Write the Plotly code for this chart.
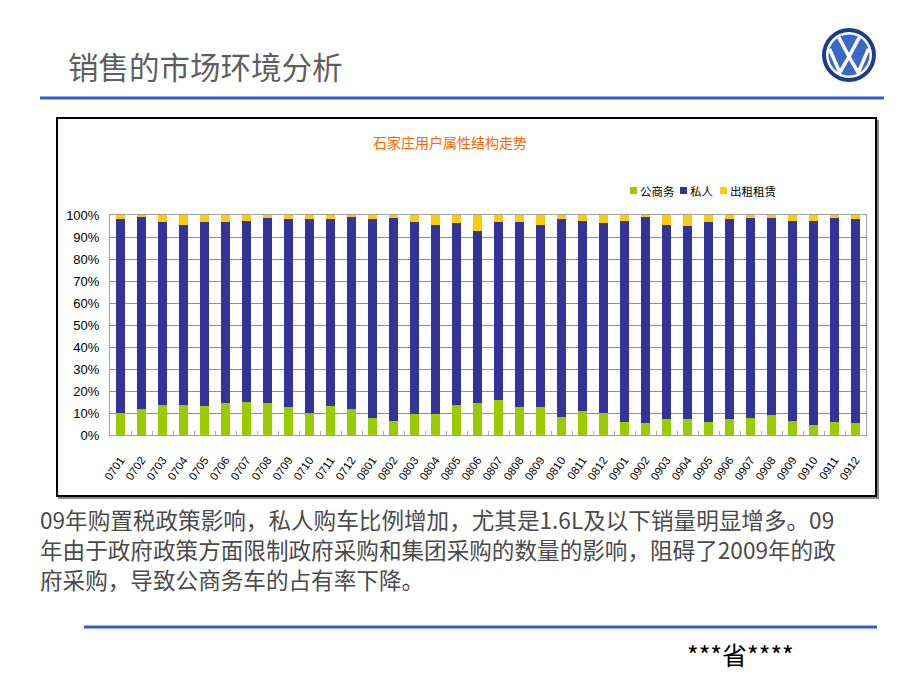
import plotly.graph_objects as go

W, H = 920, 690
OFF = 8  # page body margin offset


def px(x):
    return (x - OFF) / W


def py(y):
    return 1 - (y - OFF) / H


months = ["0701", "0702", "0703", "0704", "0705", "0706", "0707", "0708", "0709", "0710", "0711", "0712",
          "0801", "0802", "0803", "0804", "0805", "0806", "0807", "0808", "0809", "0810", "0811", "0812",
          "0901", "0902", "0903", "0904", "0905", "0906", "0907", "0908", "0909", "0910", "0911", "0912"]

# 公商务 share (%)
gov = [10.1, 11.7, 13.8, 13.8, 13.2, 14.5, 15.2, 14.5, 12.7, 10.1, 13.2, 12.0,
       7.7, 6.5, 9.5, 9.5, 13.8, 14.4, 15.8, 12.6, 12.6, 8.3, 10.8, 10.2,
       5.9, 5.3, 7.1, 7.1, 5.9, 7.1, 7.7, 8.9, 6.5, 4.7, 5.9, 5.3]
# 私人 share (%)
private = [87.9, 87.6, 83.0, 81.7, 83.6, 82.3, 82.2, 84.1, 85.3, 87.9, 84.8, 87.2,
           90.3, 92.1, 87.3, 86.0, 82.4, 78.2, 81.0, 84.2, 82.9, 89.7, 86.6, 86.0,
           91.5, 93.9, 88.4, 87.9, 90.9, 90.9, 90.9, 89.7, 90.9, 92.7, 92.7, 92.7]
# 出租租赁 share (%)
rental = [2.0, 0.7, 3.2, 4.5, 3.2, 3.2, 2.6, 1.4, 2.0, 2.0, 2.0, 0.8,
          2.0, 1.4, 3.2, 4.5, 3.8, 7.4, 3.2, 3.2, 4.5, 2.0, 2.6, 3.8,
          2.6, 0.8, 4.5, 5.0, 3.2, 2.0, 1.4, 1.4, 2.6, 2.6, 1.4, 2.0]

series_names = ["公商务", "私人", "出租租赁"]
series_colors = ["#99CC00", "#333399", "#FFCC00"]
y_ticks = [0, 10, 20, 30, 40, 50, 60, 70, 80, 90, 100]
y_ticktext = [f"{v}%" for v in y_ticks]

slide_title = "销售的市场环境分析"
chart_title = "石家庄用户属性结构走势"
paragraph = [
    "09年购置税政策影响，私人购车比例增加，尤其是1.6L及以下销量明显增多。09",
    "年由于政府政策方面限制政府采购和集团采购的数量的影响，阻碍了2009年的政",
    "府采购，导致公商务车的占有率下降。",
]
footer = "***省****"

CJK = "Noto Sans CJK SC"

fig = go.Figure()
for name, vals, col in zip(series_names, [gov, private, rental], series_colors):
    fig.add_trace(go.Bar(x=months, y=vals, name=name, marker=dict(color=col, line=dict(width=0)),
                         showlegend=False))

shapes = []
annotations = []

# chart box
shapes.append(dict(type="rect", xref="paper", yref="paper", x0=px(59), x1=px(878), y0=py(121), y1=py(498),
                   line=dict(color="#8a8a8a", width=2), fillcolor="rgba(0,0,0,0)", layer="below"))
shapes.append(dict(type="rect", xref="paper", yref="paper", x0=px(57), x1=px(876), y0=py(118), y1=py(496),
                   line=dict(color="#000000", width=2), fillcolor="white", layer="below"))

# blue lines
shapes.append(dict(type="line", xref="paper", yref="paper", x0=px(40), x1=px(884), y0=py(98), y1=py(98),
                   line=dict(color="#2F5CCB", width=3)))
shapes.append(dict(type="line", xref="paper", yref="paper", x0=px(84), x1=px(877), y0=py(627), y1=py(627),
                   line=dict(color="#2F5CCB", width=3)))

# VW logo
cx, cy = 849, 55


def circ(r, fill, lw=0, lc="white"):
    return dict(type="circle", xref="paper", yref="paper", x0=px(cx - r), x1=px(cx + r),
                y0=py(cy + r), y1=py(cy - r), fillcolor=fill, line=dict(width=lw, color=lc))


shapes.append(circ(27, "#1E3C85"))
shapes.append(circ(23, "#FFFFFF"))
shapes.append(circ(20.5, "#3A68C4"))
R = 20.5


def path(points):
    s = ""
    for i, (ux, uy) in enumerate(points):
        X = px(cx + ux * R)
        Y = py(cy - uy * R)
        s += ("M" if i == 0 else "L") + f"{X:.5f},{Y:.5f} "
    return s


shapes.append(dict(type="path", xref="paper", yref="paper",
                   path=path([(-0.5, 0.86), (0, -0.08), (0.5, 0.86)]),
                   line=dict(color="white", width=3.5)))
shapes.append(dict(type="path", xref="paper", yref="paper",
                   path=path([(-0.95, 0.3), (-0.45, -0.86), (0, -0.08), (0.45, -0.86), (0.95, 0.3)]),
                   line=dict(color="white", width=3.5)))

# legend (manual)
leg_x = [630, 680, 720]
for lx, name, col in zip(leg_x, series_names, series_colors):
    shapes.append(dict(type="rect", xref="paper", yref="paper", x0=px(lx), x1=px(lx + 7),
                       y0=py(194), y1=py(187), fillcolor=col, line=dict(width=0)))
    annotations.append(dict(xref="paper", yref="paper", x=px(lx + 8), y=py(190.5), text=name,
                            showarrow=False, xanchor="left", yanchor="middle",
                            font=dict(family=CJK, size=11.5, color="#000000")))

# titles
annotations.append(dict(xref="paper", yref="paper", x=px(66), y=py(66), text=slide_title,
                        showarrow=False, xanchor="left", yanchor="middle",
                        font=dict(family=CJK, size=30.5, color="#5E5E5E")))
annotations.append(dict(xref="paper", yref="paper", x=px(450), y=py(142), text=chart_title,
                        showarrow=False, xanchor="center", yanchor="middle",
                        font=dict(family=CJK, size=14, color="#FF6600")))

for i, line in enumerate(paragraph):
    annotations.append(dict(xref="paper", yref="paper", x=px(39), y=py(519 + i * 30), text=line,
                            showarrow=False, xanchor="left", yanchor="middle", borderpad=0,
                            font=dict(family=CJK, size=22.6, color="#4A4A4A")))

annotations.append(dict(xref="paper", yref="paper", x=px(740), y=py(654), text=footer,
                        showarrow=False, xanchor="center", yanchor="middle",
                        font=dict(family=CJK, size=25, color="#000000")))

fig.update_layout(
    width=W, height=H,
    margin=dict(l=0, r=0, t=0, b=0, autoexpand=False),
    paper_bgcolor="white", plot_bgcolor="white",
    barmode="stack", bargap=0.55,
    shapes=shapes, annotations=annotations,
    xaxis=dict(domain=[px(110), px(866)], type="category", tickangle=-55, automargin=False,
               tickfont=dict(family="Liberation Sans", size=11.5, color="#000000"),
               showline=True, linecolor="#A0A0A0", linewidth=1, mirror=True,
               ticks="inside", ticklen=4, tickcolor="#B0B0B0", tickson="boundaries",
               showgrid=False, ticklabelstandoff=13),
    yaxis=dict(domain=[py(435), py(215)], range=[0, 100], tickvals=y_ticks, ticktext=y_ticktext,
               automargin=False,
               tickfont=dict(family="Liberation Sans", size=13, color="#000000"),
               showline=True, linecolor="#A0A0A0", linewidth=1, mirror=True,
               showgrid=True, gridcolor="#8E8E8E", gridwidth=1, ticks="", ticklabelstandoff=7,
               zeroline=False),
)

fig.write_html("out.html", config={"displayModeBar": False})
